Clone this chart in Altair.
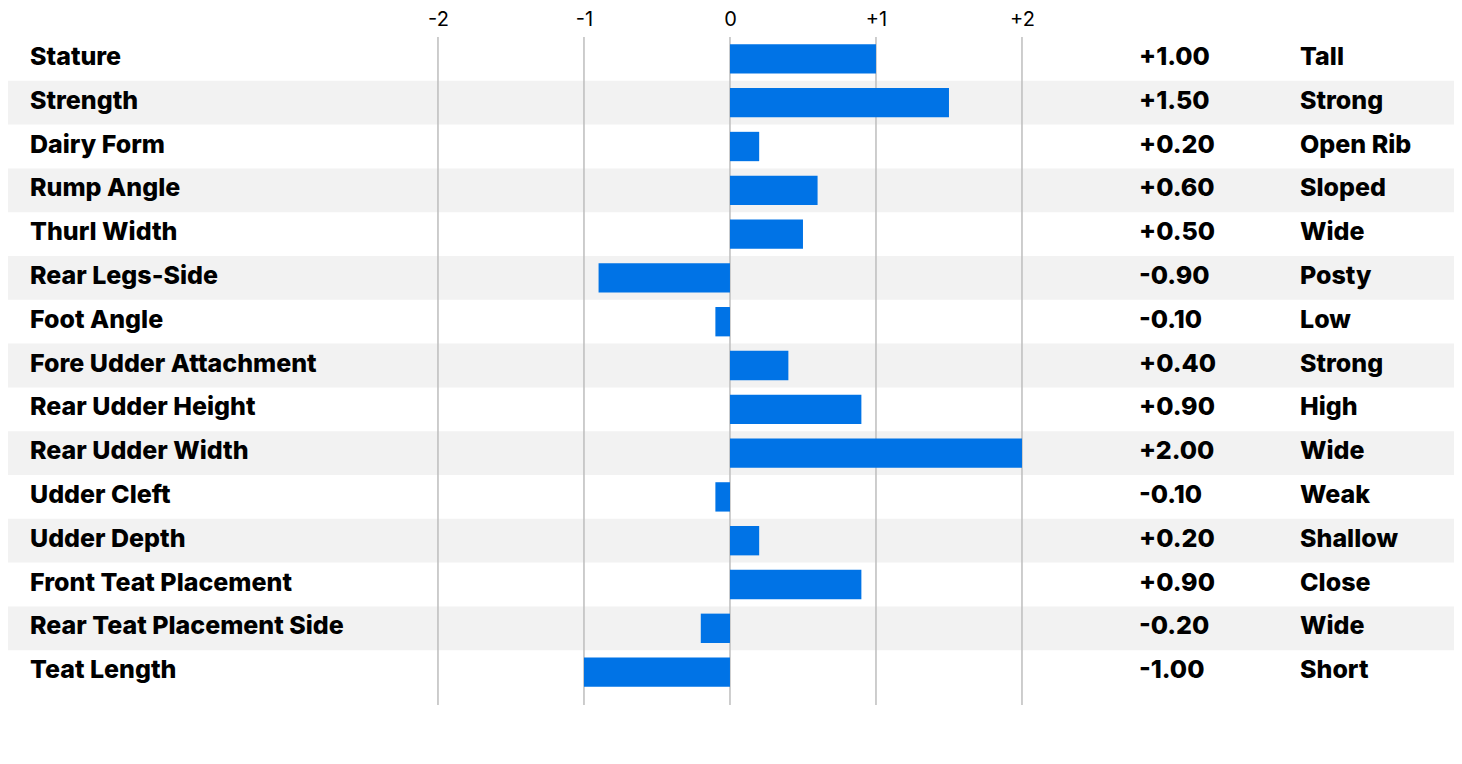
import altair as alt
import pandas as pd

traits = ["Stature", "Strength", "Dairy Form", "Rump Angle", "Thurl Width",
          "Rear Legs-Side", "Foot Angle", "Fore Udder Attachment",
          "Rear Udder Height", "Rear Udder Width", "Udder Cleft", "Udder Depth",
          "Front Teat Placement", "Rear Teat Placement Side", "Teat Length"]
values = [1.0, 1.5, 0.2, 0.6, 0.5, -0.9, -0.1, 0.4, 0.9, 2.0, -0.1, 0.2, 0.9, -0.2, -1.0]
descriptors = ["Tall", "Strong", "Open Rib", "Sloped", "Wide", "Posty", "Low",
               "Strong", "High", "Wide", "Weak", "Shallow", "Close", "Wide", "Short"]
tick_values = [-2, -1, 0, 1, 2]

df = pd.DataFrame({
    "trait": traits,
    "value": values,
    "desc": descriptors,
    "row": list(range(len(traits))),
})
df["label"] = [f"{v:+.2f}" for v in values]
df["odd"] = df["row"] % 2 == 1

FONT = "Inter"
W, H = 1446, 668

xscale = alt.Scale(domain=[-4.945, 4.959], nice=False, zero=False)
yscale = alt.Scale(range=[0, 657], paddingInner=0, paddingOuter=0)
Y = alt.Y("trait:N", sort=traits, scale=yscale, axis=None)

base = alt.Chart(df)

bands = base.transform_filter("datum.odd").mark_rect(color="#f2f2f2").encode(
    y=Y, x=alt.value(0), x2=alt.value(W)
)

grid = alt.Chart(pd.DataFrame({"t": tick_values})).mark_rule(
    color="#bdbdbd", strokeWidth=1.5
).encode(
    x=alt.X("t:Q", scale=xscale,
            axis=alt.Axis(orient="top", values=tick_values, grid=False, ticks=False,
                          domain=False, title=None, labelFont=FONT, labelFontSize=20,
                          labelColor="#000", labelPadding=8,
                          labelExpr="datum.value > 0 ? '+' + datum.value : '' + datum.value")),
    y=alt.value(0), y2=alt.value(H),
)

bars = base.mark_bar(color="#0073e6", height={"band": 0.67}).encode(
    y=Y, x=alt.X("value:Q", scale=xscale), x2=alt.datum(0)
)

text_style = dict(align="left", baseline="middle", font=FONT, fontSize=25,
                  fontWeight=800, color="#000", dy=-2)

names = base.mark_text(**text_style).encode(y=Y, x=alt.value(22), text="trait:N")
nums = base.mark_text(**text_style).encode(y=Y, x=alt.value(1131), text="label:N")
descs = base.mark_text(**text_style).encode(y=Y, x=alt.value(1292), text="desc:N")

chart = alt.layer(bands, grid, bars, names, nums, descs).properties(
    width=W, height=H,
    autosize=alt.AutoSizeParams(type="none"),
    padding={"left": 0, "top": 29, "right": 0, "bottom": 0},
).configure_view(stroke=None)

chart.save("out.html", embed_options={"renderer": "svg", "actions": False})
